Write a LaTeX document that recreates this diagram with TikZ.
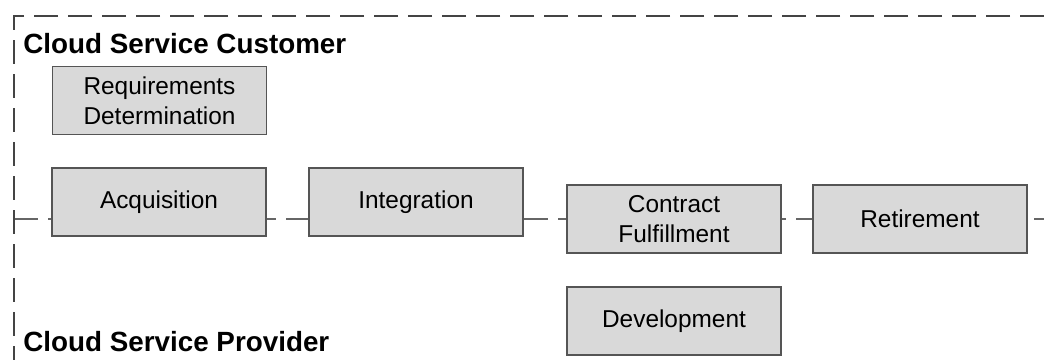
\documentclass[tikz,border=0pt]{standalone}
\usepackage{fontspec}
\setmainfont{Liberation Sans}
\usepackage{tikz}
\usetikzlibrary{backgrounds}

\definecolor{boxfill}{HTML}{D9D9D9}
\definecolor{boxline}{HTML}{555555}
\definecolor{laneline}{HTML}{444444}

\begin{document}
\begin{tikzpicture}[x=0.5pt, y=-0.5pt,
		phase/.style={draw=boxline, line width=0.8pt, fill=boxfill,
			minimum width=107pt, minimum height=34pt, inner sep=0pt,
			align=center, font=\fontsize{12.2}{15}\selectfont},
		lane/.style={draw=laneline, line width=0.9pt, dash pattern=on 12pt off 5pt},
		role/.style={anchor=west, inner sep=0pt, font=\fontsize{13.9}{16}\selectfont\bfseries}]
		\useasboundingbox (0,0) rectangle (1044,360);

		\coordinate (frameTR) at (1044,16);
		\coordinate (frameTL) at (14,16);
		\coordinate (frameBL) at (14,360);
		\coordinate (laneL) at (14,219);
		\coordinate (laneR) at (1044,219);

		\draw[lane] (frameTR) -- (frameTL) -- (frameBL);

		\node[role] (customer) at (23,44) {Cloud Service Customer};
		\node[role] (provider) at (23,342) {Cloud Service Provider};

		\node[phase] (req) at (159.5,100.5) {Requirements\\Determination};
		\node[phase] (acq) at (159,202) {Acquisition};
		\node[phase] (integ) at (416,202) {Integration};
		\node[phase] (contract) at (674,219) {Contract\\Fulfillment};
		\node[phase] (retire) at (920,219) {Retirement};
		\node[phase] (dev) at (674,321) {Development};

		% boundary between customer and provider runs behind the boxes
		\begin{scope}[on background layer]
			\draw[lane, draw=boxline!90, line width=0.75pt] (laneL) -- (laneR);
		\end{scope}
	\end{tikzpicture}
\end{document}
